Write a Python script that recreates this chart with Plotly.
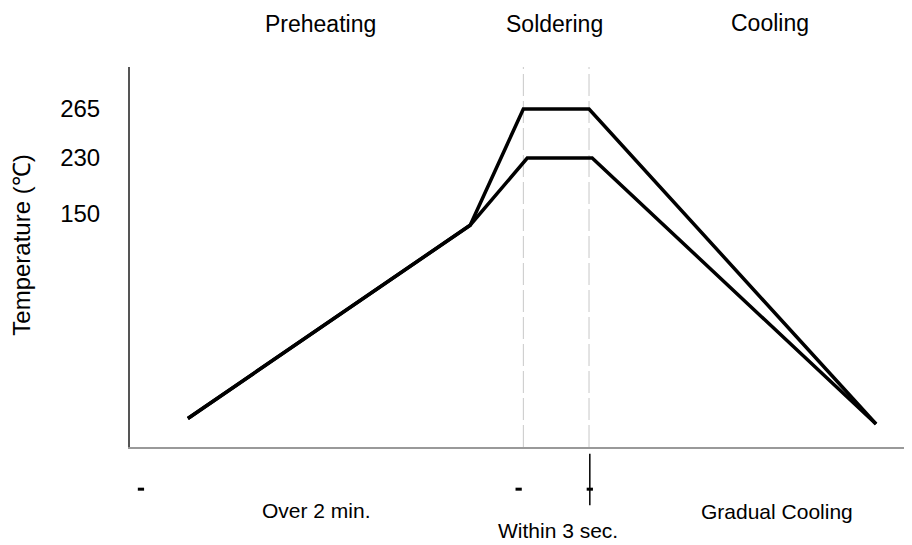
import plotly.graph_objects as go

# Schematic soldering temperature profile (time axis in schematic units 0-100)
upper_time = [7.4, 43.5, 50.3, 58.7, 95.4]
upper_temp = [44, 182, 265, 265, 40]
lower_time = [7.4, 43.5, 50.8, 59.1, 95.4]
lower_temp = [44, 182, 230, 230, 40]

# Phase boundaries (soldering window)
solder_start = 50.3
solder_end = 58.7

y_tick_pos = [265, 230, 190]
y_tick_labels = ["265", "230", "150"]

phase_labels = ["Preheating", "Soldering", "Cooling"]
phase_label_x = [24.4, 54.3, 81.8]

duration_labels = ["Over 2 min.", "Within 3 sec.", "Gradual Cooling"]
duration_label_x = [23.9, 54.7, 82.7]

FONT = "Liberation Sans, Arial, sans-serif"

fig = go.Figure()
fig.add_trace(go.Scatter(x=upper_time, y=upper_temp, mode="lines",
                         line=dict(color="black", width=3.5), showlegend=False))
fig.add_trace(go.Scatter(x=lower_time, y=lower_temp, mode="lines",
                         line=dict(color="black", width=3.5), showlegend=False))

# dashed vertical guides
for xv in [solder_start, solder_end]:
    fig.add_shape(type="line", xref="x", yref="paper", x0=xv, x1=xv, y0=0, y1=1,
                  line=dict(color="#c8c8c8", width=1, dash="22px,5px"), layer="below")

# small markers below the axis
for xv in [1.4, 49.7, solder_end + 0.1]:
    fig.add_shape(type="line", xref="x", yref="paper", x0=xv - 0.4, x1=xv + 0.4,
                  y0=-0.111, y1=-0.111, line=dict(color="black", width=3))
fig.add_shape(type="line", xref="x", yref="paper", x0=solder_end + 0.1, x1=solder_end + 0.1,
              y0=-0.018, y1=-0.153, line=dict(color="black", width=1.5))

for lab, xv, yv in zip(phase_labels, phase_label_x, [1.112, 1.114, 1.115]):
    fig.add_annotation(text=lab, x=xv, y=yv, xref="x", yref="paper", showarrow=False,
                       xanchor="center", yanchor="middle",
                       font=dict(family=FONT, size=23, color="black"))

for lab, xv, yv in zip(duration_labels, duration_label_x, [-0.166, -0.221, -0.171]):
    fig.add_annotation(text=lab, x=xv, y=yv, xref="x", yref="paper", showarrow=False,
                       xanchor="center", yanchor="middle",
                       font=dict(family=FONT, size=21, color="black"))

fig.add_annotation(text="Temperature (℃)", x=-0.138, y=0.53, xref="paper", yref="paper",
                   showarrow=False, textangle=-90, xanchor="center", yanchor="middle",
                   font=dict(family=FONT, size=24, color="black"))

fig.update_layout(
    width=904, height=537,
    margin=dict(l=122, r=0, t=59, b=98),
    paper_bgcolor="white", plot_bgcolor="white",
    xaxis=dict(range=[0, 100], showgrid=False, zeroline=False, showticklabels=False,
               ticks="", showline=True, linecolor="#999999", linewidth=2),
    yaxis=dict(range=[23.6, 295], showgrid=False, zeroline=False,
               tickvals=y_tick_pos, ticktext=y_tick_labels, ticks="",
               ticklabelstandoff=23,
               tickfont=dict(family=FONT, size=24, color="black"),
               showline=True, linecolor="#555555", linewidth=2),
)

fig.write_html("out.html")
